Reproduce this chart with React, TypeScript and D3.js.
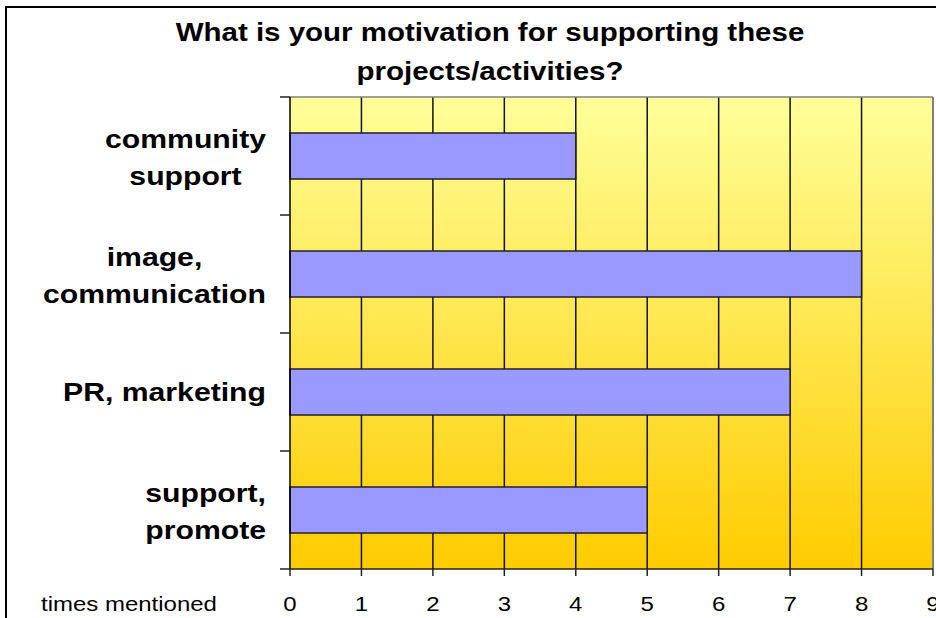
import React, { useEffect, useRef } from "react";
import * as d3 from "d3";

const titleLines = ["What is your motivation for supporting these", "projects/activities?"];
const categories = ["community support", "image, communication", "PR, marketing", "support, promote"];
const categoryLines = [["community", "support"], ["image,", "communication"], ["PR, marketing"], ["support,", "promote"]];
const values = [4, 8, 7, 5];
const xTicks = [0, 1, 2, 3, 4, 5, 6, 7, 8, 9];
const xAxisTitle = "times mentioned";

const W = 936;
const H = 618;
const SX = 1.17;

export default function App() {
  const ref = useRef<SVGSVGElement | null>(null);

  useEffect(() => {
    const svg = d3.select(ref.current);
    svg.selectAll("*").remove();

    const left = 290, right = 933, top = 97, bottom = 569;
    const x = d3.scaleLinear().domain([0, 9]).range([left, right]);
    const y = d3.scaleBand<string>().domain(categories).range([top, bottom]).padding(0);

    const defs = svg.append("defs");
    const grad = defs.append("linearGradient").attr("id", "bg").attr("x1", 0).attr("y1", 0).attr("x2", 0).attr("y2", 1);
    grad.append("stop").attr("offset", "0%").attr("stop-color", "#FFFF99");
    grad.append("stop").attr("offset", "100%").attr("stop-color", "#FFCC00");

    svg.append("rect").attr("x", 0).attr("y", 0).attr("width", W).attr("height", H).attr("fill", "#ffffff");
    svg.append("rect").attr("x", 6).attr("y", 7).attr("width", W + 20).attr("height", H + 20)
      .attr("fill", "none").attr("stroke", "#000").attr("stroke-width", 2);

    // plot background
    svg.append("rect").attr("x", left).attr("y", top).attr("width", right - left).attr("height", bottom - top)
      .attr("fill", "url(#bg)");

    // gridlines
    svg.append("g").selectAll("line").data(xTicks.slice(1, -1)).join("line")
      .attr("x1", d => x(d)).attr("x2", d => x(d)).attr("y1", top).attr("y2", bottom)
      .attr("stroke", "#111").attr("stroke-width", 1.5);

    // border top/right
    svg.append("line").attr("x1", left).attr("x2", right).attr("y1", top).attr("y2", top).attr("stroke", "#808080").attr("stroke-width", 1.5);
    svg.append("line").attr("x1", right).attr("x2", right).attr("y1", top).attr("y2", bottom).attr("stroke", "#808080").attr("stroke-width", 2);

    // bars
    const barH = y.bandwidth() * 0.39;
    svg.append("g").selectAll("rect").data(values).join("rect")
      .attr("x", x(0))
      .attr("y", (d, i) => (y(categories[i]) as number) + y.bandwidth() / 2 - barH / 2)
      .attr("width", d => x(d) - x(0))
      .attr("height", barH)
      .attr("fill", "#9999FF").attr("stroke", "#222").attr("stroke-width", 1.5);

    // axes
    svg.append("line").attr("x1", left).attr("x2", left).attr("y1", top).attr("y2", bottom).attr("stroke", "#000").attr("stroke-width", 1.5);
    svg.append("line").attr("x1", left).attr("x2", right).attr("y1", bottom).attr("y2", bottom).attr("stroke", "#222").attr("stroke-width", 1.5);
    const yTickPos = [top, ...categories.map(c => (y(c) as number) + y.bandwidth())];
    svg.append("g").selectAll("line").data(yTickPos).join("line")
      .attr("x1", left - 10).attr("x2", left).attr("y1", d => d).attr("y2", d => d)
      .attr("stroke", "#222").attr("stroke-width", 1.5);
    svg.append("g").selectAll("line").data(xTicks).join("line")
      .attr("x1", d => x(d)).attr("x2", d => x(d)).attr("y1", bottom).attr("y2", bottom + 7)
      .attr("stroke", "#222").attr("stroke-width", 1.5);

    const font = "Liberation Sans, Arial, sans-serif";

    // tick labels
    svg.append("g").selectAll("text").data(xTicks).join("text")
      .attr("transform", d => `translate(${x(d)},611) scale(${SX},1)`)
      .attr("text-anchor", "middle").attr("font-family", font).attr("font-size", 20.5).attr("fill", "#000")
      .text(d => String(d));

    svg.append("text").attr("transform", `translate(129,611) scale(${SX},1)`)
      .attr("text-anchor", "middle").attr("font-family", font).attr("font-size", 20.5).attr("fill", "#000")
      .text(xAxisTitle);

    // title
    titleLines.forEach((t, i) => {
      svg.append("text").attr("transform", `translate(490,${41 + i * 39}) scale(${SX},1)`)
        .attr("text-anchor", "middle").attr("font-family", font).attr("font-size", 25.2).attr("font-weight", "bold")
        .attr("fill", "#000").text(t);
    });

    // category labels
    const labelRight = 266;
    categoryLines.forEach((lines, i) => {
      const c = (y(categories[i]) as number) + y.bandwidth() / 2;
      const g = svg.append("g");
      const texts = lines.map(l => g.append("text").attr("font-family", font).attr("font-size", 25.8)
        .attr("font-weight", "bold").attr("text-anchor", "middle").attr("fill", "#000").text(l));
      const widths = texts.map(t => (t.node() as SVGTextElement).getComputedTextLength() * SX);
      const maxW = Math.max(...widths);
      const cx = labelRight - maxW / 2;
      const lh = 37;
      const base0 = lines.length === 1 ? c + 9 : c - 8;
      texts.forEach((t, j) => t.attr("transform", `translate(${cx},${base0 + j * lh}) scale(${SX},1)`));
    });
  }, []);

  return (
    <svg ref={ref} width={W} height={H} style={{ position: "absolute", left: 0, top: 0, display: "block" }} />
  );
}
